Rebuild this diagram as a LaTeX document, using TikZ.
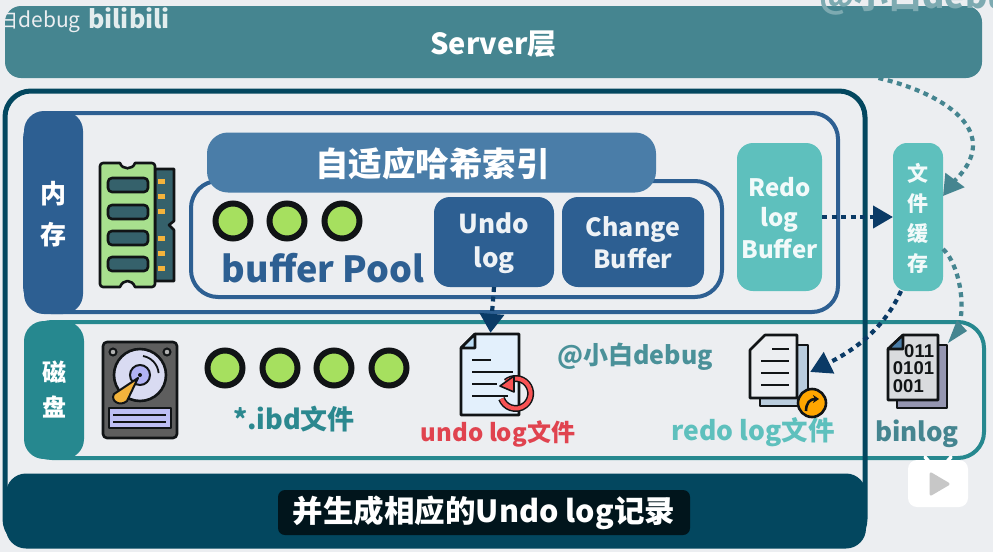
\documentclass[tikz,border=0pt]{standalone}
\usepackage{fontspec}
\setmainfont{Noto Sans CJK SC}
\newfontfamily\digitfont{Liberation Sans}
\usetikzlibrary{arrows.meta}
\definecolor{bgc}{HTML}{ECEEF1}
\definecolor{servc}{HTML}{458590}
\definecolor{deep}{HTML}{03475F}
\definecolor{memc}{HTML}{2D5F92}
\definecolor{hashc}{HTML}{4A7DA8}
\definecolor{diskc}{HTML}{26888F}
\definecolor{mint}{HTML}{5EC0BD}
\definecolor{navy}{HTML}{0A3A66}
\definecolor{leaf}{HTML}{A6E05F}
\definecolor{redt}{HTML}{E0434F}
\definecolor{lineblack}{HTML}{111416}
\definecolor{chipc}{HTML}{35616B}
\definecolor{boardc}{HTML}{A8E08E}
\definecolor{goldc}{HTML}{F3B33C}
\definecolor{paperc}{HTML}{E3F0FC}
\definecolor{foldc}{HTML}{BCDDF5}
\newcommand{\fs}[1]{\fontsize{#1}{#1}\selectfont}
\tikzset{
  panel/.style={rectangle,inner sep=0pt,outer sep=0pt,rounded corners=#1},
  panel/.default=20pt,
  lbl/.style={inner sep=0pt,outer sep=0pt,align=center,text=white,font=\bfseries},
  ball/.style={circle,draw=lineblack,fill=leaf,line width=6pt,minimum size=35pt,inner sep=0pt},
  ink/.style={draw=lineblack,line width=2.6pt,line join=round,line cap=round},
  dots/.style={line width=4.2pt,dash pattern=on 5pt off 4.5pt},
}
\begin{document}
\begin{tikzpicture}[x=1pt,y=-1pt]
\clip (0,0) rectangle (993,552);
\fill[bgc] (0,0) rectangle (993,552);

% server layer
\node[panel=16pt,fill=servc,minimum width=977pt,minimum height=72pt] (server) at (493.5,42) {};
\node[lbl,font=\bfseries\fs{29}] (servert) at (493.5,44.5) {Server层};
\node[lbl,text=bgc,font=\fs{21}] (wm1) at (39,21) {白debug};
\node[lbl,text=white!85!servc,font=\bfseries\fs{25}] (wm2) at (129,18) {bilibili};
\node[lbl,text=servc!70!white,font=\bfseries\fs{34}] (wm3) at (925,-2) {@小白debug};

% memory panel
\node[panel=26pt,draw=memc,line width=4pt,minimum width=813pt,minimum height=199pt] (mem) at (431.5,212.5) {};
\node[panel=20pt,fill=memc,minimum width=59pt,minimum height=203pt] (memtab) at (53.5,212.5) {};
\node[lbl,font=\bfseries\fs{26}] (memt) at (53.5,214) {内\\[15pt]存};

% buffer pool
\node[panel=27pt,draw=memc,line width=4pt,minimum width=531pt,minimum height=116pt] (pool) at (456.5,239) {};
\node[panel=21pt,fill=hashc,minimum width=449pt,minimum height=60pt] (hash) at (431.5,162.5) {};
\node[lbl,font=\bfseries\fs{33.5}] (hasht) at (432.5,164) {自适应哈希索引};
\node[ball] (b1) at (233,221) {};
\node[ball] (b2) at (287,221) {};
\node[ball] (b3) at (342,221) {};
\node[lbl,text=memc,font=\bfseries\fs{36}] (poolt) at (323,268) {buffer Pool};
\node[panel=16pt,fill=memc,minimum width=120pt,minimum height=90pt] (undolog) at (494,242) {};
\node[lbl,font=\bfseries\fs{26},text=white!92!memc] (undot) at (494,243) {Undo\\[8pt]log};
\node[panel=16pt,fill=memc,minimum width=142pt,minimum height=90pt] (change) at (633,242) {};
\node[lbl,font=\bfseries\fs{25},text=white!92!memc] (changet) at (633,242.5) {Change\\[5pt]Buffer};
\node[panel=16pt,fill=mint,minimum width=85pt,minimum height=148pt] (redo) at (779.5,217) {};
\node[lbl,font=\bfseries\fs{24},text=white!92!mint] (redot) at (779.5,218) {Redo\\[6pt]log\\[6pt]Buffer};

% file cache
\node[panel=14pt,fill=mint,minimum width=50pt,minimum height=148pt] (cache) at (918,217) {};
\node[lbl,font=\bfseries\fs{21},text=white!92!mint] (cachet) at (918,218) {文\\[9pt]件\\[9pt]缓\\[9pt]存};

% disk panel
\node[panel=26pt,draw=diskc,line width=4pt,minimum width=958pt,minimum height=136pt] (disk) at (505,390) {};
\node[panel=20pt,fill=diskc,minimum width=60pt,minimum height=138pt] (disktab) at (54,390) {};
\node[lbl,font=\bfseries\fs{24}] (diskt) at (54,390) {磁\\[11pt]盘};
\node[ball] (d1) at (225,368) {};
\node[ball] (d2) at (280,368) {};
\node[ball] (d3) at (334,368) {};
\node[ball] (d4) at (389,368) {};
\node[lbl,text=diskc!85!servc,font=\bfseries\fs{27}] (ibd) at (294,419.5) {*.ibd文件};
\node[lbl,text=redt,font=\bfseries\fs{24}] (undof) at (498,433.5) {undo log文件};
\node[lbl,text=servc!80!mint,font=\bfseries\fs{25}] (wm4) at (635,357) {@小白debug};
\node[lbl,text=mint,font=\bfseries\fs{26.5}] (redof) at (753,432.5) {redo log文件};
\node[lbl,text=servc,font=\bfseries\fs{26}] (binf) at (917,433.5) {binlog};

% RAM icon
\draw[ink,fill=chipc] (155,169) -- (174,169) -- (174,221) -- (169,225) -- (174,230) -- (174,281) -- (155,281) -- cycle;
\foreach \yy in {181,196,211,238,253,268}
  \fill[goldc] (158,\yy-2.5) rectangle (165,\yy+2.5);
\draw[ink,fill=boardc] (100,166) arc[start angle=180,end angle=270,radius=3] -- (120,163) .. controls (122,170) and (133,170) .. (135,163) -- (152,163) arc[start angle=-90,end angle=0,radius=3] -- (155,284) arc[start angle=0,end angle=90,radius=3] -- (135,287) .. controls (132,279) and (123,279) .. (120,287) -- (103,287) arc[start angle=90,end angle=180,radius=3] -- cycle;
\foreach \yy in {178,205,231,257}
  \draw[ink,fill=chipc,rounded corners=4pt] (108,\yy) rectangle (148,\yy+14);

% HDD icon
\draw[ink,fill=black!63,rounded corners=4pt] (103,342) rectangle (177,438);
\draw[line width=2pt,draw=lineblack,fill=black!30] (113,352) circle[radius=3.5];
\draw[line width=2pt,draw=lineblack,fill=black!30] (167,352) circle[radius=3.5];
\draw[ink,fill=blue!8!bgc] (140,375) circle[radius=26];
\draw[line width=2pt,draw=lineblack,fill=blue!25!bgc] (140,375) circle[radius=10];
\fill[lineblack] (140,375) circle[radius=2];
\draw[line width=2pt,draw=lineblack,fill=goldc,line join=round] (138,378) -- (127,401) .. controls (120,407) and (110,401) .. (114,394) -- cycle;
\draw[line width=1.8pt,lineblack] (143,356) arc[start angle=-80,end angle=-5,radius=19];
\draw[ink,fill=blue!20!bgc] (109,408) rectangle (171,428);
\draw[line width=2pt,lineblack] (113,415) -- (166,415) (113,422) -- (166,422);

% undo document
\node[inner sep=0pt,minimum width=59pt,minimum height=82pt] (undodoc) at (490.5,374) {};
\draw[ink,fill=paperc] (461,348) -- (475,334) -- (519,334) -- (519,415) -- (461,415) -- cycle;
\draw[ink,fill=foldc] (461,348) -- (475,334) -- (475,348) -- cycle;
\draw[line width=2.2pt,lineblack] (472,360) -- (491,360) (472,372) -- (513,372) (472,384) -- (497,384) (472,396) -- (508,396);
\draw[line width=7pt,lineblack] (506,382) arc[start angle=-130,end angle=160,radius=15];
\draw[line width=4pt,red!65!bgc] (506,382) arc[start angle=-130,end angle=160,radius=15];
\draw[line width=1.6pt,lineblack,fill=red!65!bgc,line join=round] (500,386) -- (514,376) -- (514,392) -- cycle;

% redo document
\node[inner sep=0pt,minimum width=60pt,minimum height=74pt] (redodoc) at (780,372) {};
\draw[ink,fill=blue!15!servc!35!white] (760,345) -- (808,345) -- (808,406) -- (760,406) -- cycle;
\draw[ink,fill=bgc] (750,350) -- (765,335) -- (797,335) -- (797,398) -- (750,398) -- cycle;
\draw[line width=2.2pt,lineblack] (772,349) -- (789,349) (761,361) -- (789,361) (761,373) -- (789,373) (761,385) -- (789,385);
\draw[ink,fill=orange!70!yellow] (812,403) circle[radius=14];
\draw[line width=2.6pt,lineblack,-{Stealth[length=6pt,width=8pt]}] (806,411) .. controls (806,403) and (810,399) .. (819,399);

% binlog document
\node[inner sep=0pt,minimum width=60pt,minimum height=74pt] (bindoc) at (917,371) {};
\draw[ink,fill=black!30!bgc!90!blue] (897,345) rectangle (947,408);
\draw[ink,fill=black!8!bgc] (888,349) -- (903,335) -- (938,335) -- (938,400) -- (888,400) -- cycle;
\draw[ink,fill=hashc] (888,349) -- (903,335) -- (903,349) -- cycle;
\node[lbl,text=lineblack,font=\digitfont\bfseries\fs{18.5},align=right,inner sep=0pt] (bits) at (913.5,368.5) {011\\[-1pt]0101\\[-1pt]001\hphantom{0}};

% outer engine frame
\node[panel=26pt,draw=deep,line width=5pt,minimum width=860pt,minimum height=454pt] (engine) at (435,318) {};
\node[panel=20pt,fill=deep,minimum width=860pt,minimum height=75pt] (footer) at (436,511) {};

% connectors
\coordinate (tealend) at (961,316);
\draw[dots,draw=navy,-{Triangle[length=19pt,width=24pt]}] (undolog.south) -- (undodoc.north);
\draw[dots,draw=navy,-{Triangle[length=20pt,width=22pt]}] (redo.east) -- (cache.west);
\draw[dots,draw=servc,-{Triangle[length=20pt,width=23pt]}] ([xshift=385pt]server.south) .. controls (930,90) and (973,115) .. (973,145) .. controls (973,165) and (955,180) .. ([yshift=21pt]cache.east);
\draw[dots,draw=navy,-{Triangle[length=21pt,width=23pt]}] ([xshift=-17pt]cache.south) .. controls (888,320) and (865,345) .. (redodoc.east);
\draw[dots,draw=servc] ([yshift=-32pt]cache.east) .. controls (955,260) and (964,290) .. (tealend);
\fill[servc] (957,320) -- (967,331) -- (948,343) -- cycle;

% subtitle
\node[panel=7pt,fill=black!70!deep,minimum width=412pt,minimum height=45pt] (subbox) at (484,512.5) {};
\node[lbl,font=\bfseries\fs{30.5}] (subt) at (484,512.5) {并生成相应的Undo log记录};

% video logo
\node[panel=9pt,fill=white,minimum width=60pt,minimum height=47pt] (play) at (938,483.5) {};
\draw[white,line width=3.5pt,line cap=round] (925,457) -- (931,464) (951,457) -- (945,464);
\draw[fill=black!22,draw=black!22,line width=3pt,line join=round] (931,474) -- (948,484) -- (931,494) -- cycle;
\end{tikzpicture}
\end{document}
